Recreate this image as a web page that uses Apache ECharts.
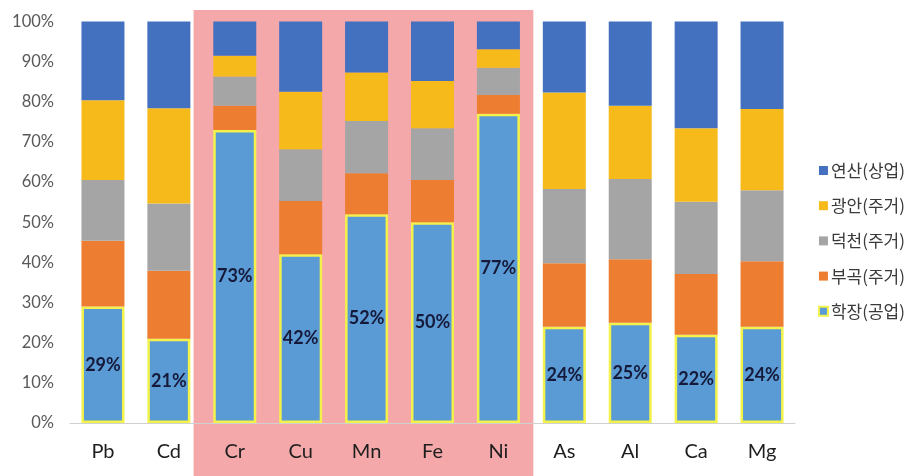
<!DOCTYPE html>
<html>
<head>
<meta charset="utf-8">
<script src="https://cdn.jsdelivr.net/npm/echarts@6/dist/echarts.min.js"></script>
<style>
  html, body { margin: 0; padding: 0; background: #ffffff; }
  #chart { width: 913px; height: 476px; }
</style>
</head>
<body>
<div id="chart"></div>
<script>
// Share of each element by sampling site (stacked to 100%)
const elements = ['Pb', 'Cd', 'Cr', 'Cu', 'Mn', 'Fe', 'Ni', 'As', 'Al', 'Ca', 'Mg'];

const hakjang = [29, 21, 73, 42, 52, 50, 77, 24, 25, 22, 24];            // 학장(공업)
const bugok   = [16.4, 16.9, 6.0, 13.3, 10.2, 10.5, 4.7, 15.8, 15.8, 15.1, 16.3]; // 부곡(주거)
const deokcheon = [15.1, 16.8, 7.3, 12.9, 13.0, 12.9, 6.8, 18.5, 20.0, 18.0, 17.7]; // 덕천(주거)
const gwangan = [19.9, 23.7, 5.2, 14.3, 12.1, 11.8, 4.6, 24.0, 18.2, 18.3, 20.2];  // 광안(주거)
const yeonsan = [19.6, 21.6, 8.5, 17.5, 12.7, 14.8, 6.9, 17.7, 21.0, 26.6, 21.8];  // 연산(상업)

const yTicks = ['0%', '10%', '20%', '30%', '40%', '50%', '60%', '70%', '80%', '90%', '100%'];

// Elements highlighted with a shaded band
const highlightFrom = 'Cr';
const highlightTo = 'Ni';

const names = ['학장(공업)', '부곡(주거)', '덕천(주거)', '광안(주거)', '연산(상업)'];
const colors = ['#5b9bd5', '#ed7d31', '#a5a5a5', '#f6bb1b', '#4470c0'];
const values = [hakjang, bugok, deokcheon, gwangan, yeonsan];

const chart = echarts.init(document.getElementById('chart'));

const series = values.map((arr, i) => {
  const s = {
    name: names[i],
    type: 'bar',
    stack: 'total',
    data: arr,
    barWidth: 43,
    itemStyle: { color: colors[i] },
    emphasis: { disabled: true }
  };
  if (i === 0) {
    s.itemStyle.borderColor = '#f2f24a';
    s.itemStyle.borderWidth = 2.5;
    s.label = {
      show: true,
      position: 'inside',
      formatter: p => p.value + '%',
      color: '#161a3a',
      fontSize: 18,
      fontWeight: 'bold',
      fontFamily: 'Lato, "Open Sans", sans-serif'
    };
  }
  return s;
});

chart.setOption({
  animation: false,
  backgroundColor: '#ffffff',
  grid: { left: 70, right: 118, top: 21.5, bottom: 53 },
  legend: {
    orient: 'vertical',
    right: 3,
    top: 157,
    itemWidth: 9,
    itemHeight: 9,
    itemGap: 18.2,
    icon: 'rect',
    data: names.slice().reverse(),
    textStyle: {
      fontSize: 17,
      color: '#3a3a3a',
      fontFamily: '"Noto Sans CJK KR", sans-serif',
      padding: [0, 0, 0, -2]
    }
  },
  xAxis: {
    type: 'category',
    data: elements,
    axisLine: { lineStyle: { color: '#d0d0d0', width: 1 } },
    axisTick: { show: false },
    axisLabel: {
      color: '#1e1e1e',
      fontSize: 20,
      margin: 19,
      fontFamily: 'Lato, "Open Sans", sans-serif'
    }
  },
  yAxis: {
    type: 'value',
    min: 0,
    max: 100,
    interval: 10,
    axisLine: { show: false },
    axisTick: { show: false },
    splitLine: { show: false },
    axisLabel: {
      color: '#595959',
      fontSize: 16.5,
      margin: 16,
      fontFamily: 'Lato, "Open Sans", sans-serif',
      formatter: v => yTicks[Math.round(v / 10)]
    }
  },
  series: series
});

// Shaded band behind the highlighted elements, placed from the axis scale
function drawBand() {
  const i0 = elements.indexOf(highlightFrom);
  const i1 = elements.indexOf(highlightTo);
  const x0 = chart.convertToPixel({ xAxisIndex: 0 }, elements[i0]);
  const x1 = chart.convertToPixel({ xAxisIndex: 0 }, elements[i1]);
  const band = (x1 - x0) / (i1 - i0);
  const yTop = chart.convertToPixel({ yAxisIndex: 0 }, 100);
  const left = x0 - band * 0.625;
  const right = x1 + band * 0.53;
  const top = yTop - 11.5;
  chart.setOption({
    graphic: [{
      type: 'rect',
      z: -10,
      silent: true,
      shape: { x: left, y: top, width: right - left, height: chart.getHeight() - top },
      style: { fill: '#f4a8a9' }
    }]
  });
}
drawBand();
</script>
</body>
</html>
